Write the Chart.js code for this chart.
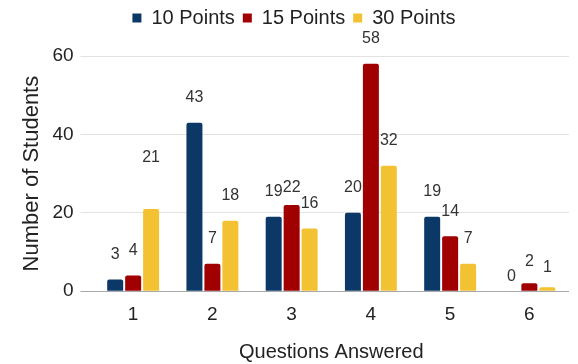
<!DOCTYPE html>
<html>
<head>
<meta charset="utf-8">
<script src="https://cdn.jsdelivr.net/npm/chart.js@4/dist/chart.umd.min.js"></script>
<style>
  html, body { margin: 0; padding: 0; background: #fff; }
  #wrap { width: 578px; height: 364px; }
</style>
</head>
<body>
<div id="wrap"><canvas id="c" width="578" height="364"></canvas></div>
<script>
// Questions answered per student, split by point value
const categories = ['1', '2', '3', '4', '5', '6'];
const seriesNames = ['10 Points', '15 Points', '30 Points'];
const points10 = [3, 43, 19, 20, 19, 0];
const points15 = [4, 7, 22, 58, 14, 2];
const points30 = [21, 18, 16, 32, 7, 1];
const yTicks = [0, 20, 40, 60];

const colors = ['#0b3866', '#a00000', '#f3c232'];
const FONT = '"Liberation Sans", Arial, sans-serif';

// Extra lift (px) for a few value labels that sit apart from the rest
const labelLift = { '2-0': 26, '1-2': -8, '0-5': -10, '1-5': -3, '2-5': -5 };

const valueLabels = {
  id: 'valueLabels',
  afterDatasetsDraw(chart) {
    const ctx = chart.ctx;
    ctx.save();
    ctx.font = '16px ' + FONT;
    ctx.fillStyle = '#333';
    ctx.textAlign = 'center';
    ctx.textBaseline = 'middle';
    chart.data.datasets.forEach((ds, di) => {
      const meta = chart.getDatasetMeta(di);
      meta.data.forEach((bar, i) => {
        const lift = 25 + (labelLift[di + '-' + i] || 0);
        ctx.fillText(String(ds.data[i]), bar.x, bar.y - lift);
      });
    });
    ctx.restore();
  }
};

// Leave room between the legend and the plot
const legendGap = {
  id: 'legendGap',
  beforeInit(chart) {
    const fit = chart.legend.fit;
    chart.legend.fit = function () {
      fit.call(this);
      this.height += 18;
    };
  }
};

const series = [points10, points15, points30];

new Chart(document.getElementById('c'), {
  type: 'bar',
  data: {
    labels: categories,
    datasets: series.map((vals, k) => ({
      label: seriesNames[k],
      data: vals,
      backgroundColor: colors[k],
      borderRadius: { topLeft: 2, topRight: 2 },
      borderSkipped: 'bottom',
      barPercentage: 0.89,
      categoryPercentage: 0.68
    }))
  },
  options: {
    responsive: false,
    animation: false,
    devicePixelRatio: 1,
    layout: { padding: { top: 0, right: 9, bottom: 0, left: 19 } },
    plugins: {
      legend: {
        position: 'top',
        labels: {
          boxWidth: 9,
          boxHeight: 9,
          padding: 8,
          color: '#222',
          font: { family: FONT, size: 20 }
        }
      },
      tooltip: { enabled: false }
    },
    scales: {
      x: {
        grid: { display: false },
        border: { display: false },
        ticks: {
          color: '#222',
          padding: 4,
          font: { family: FONT, size: 19 }
        },
        title: {
          display: true,
          text: 'Questions Answered',
          color: '#222',
          padding: { top: 10, bottom: 0 },
          font: { family: FONT, size: 20 }
        }
      },
      y: {
        min: 0,
        max: 60,
        afterBuildTicks(axis) { axis.ticks = yTicks.map(v => ({ value: v })); },
        grid: {
          color: ctx => ctx.tick && ctx.tick.value === 0 ? '#a8a8a8' : '#e2e2e2',
          tickLength: 13,
          lineWidth: 1
        },
        border: { display: false },
        ticks: {
          color: '#222',
          padding: 7,
          font: { family: FONT, size: 19 }
        },
        title: {
          display: true,
          text: 'Number of Students',
          color: '#222',
          padding: { top: 0, bottom: 0 },
          font: { family: FONT, size: 22 }
        }
      }
    }
  },
  plugins: [valueLabels, legendGap]
});
</script>
</body>
</html>
